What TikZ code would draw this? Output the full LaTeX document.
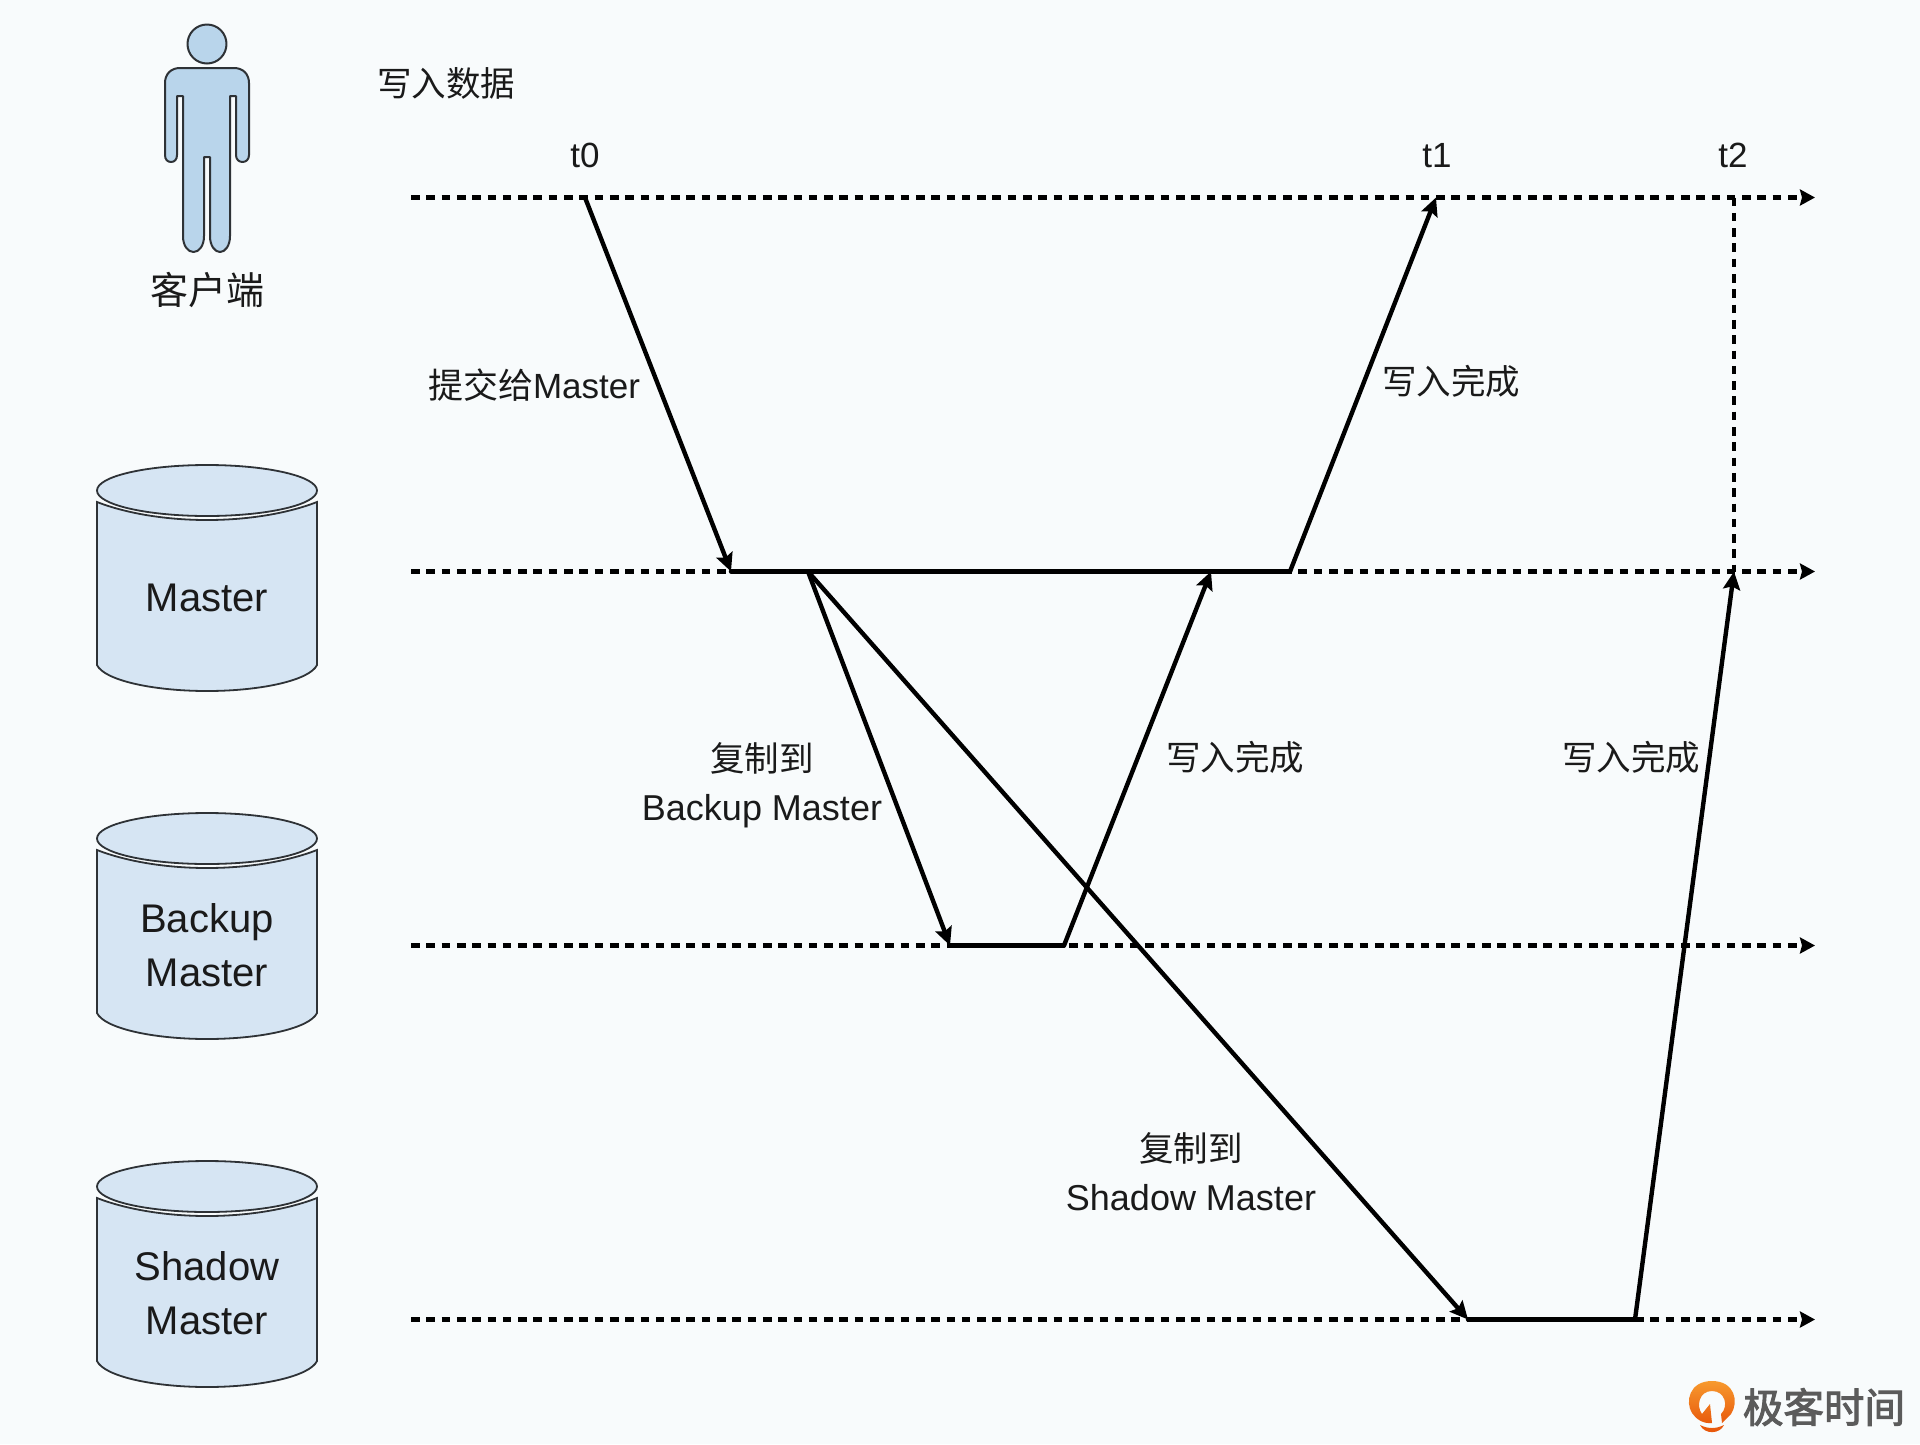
\documentclass[tikz,border=0pt]{standalone}
\usepackage{fontspec}
\setmainfont{Liberation Sans}
\newfontfamily\cjk{Noto Sans CJK SC}
\newfontfamily\cjklogo[FakeBold=2.5]{Noto Sans CJK SC}
\usetikzlibrary{arrows.meta}
\definecolor{bgc}{HTML}{F8FBFC}
\definecolor{cylc}{HTML}{D6E5F3}
\definecolor{personc}{HTML}{B9D5EB}
\definecolor{edgec}{HTML}{2E3236}
\definecolor{txtc}{HTML}{1A1A1A}
\definecolor{logoA}{HTML}{F79A2E}
\definecolor{logoB}{HTML}{E8590C}
\definecolor{logoT}{HTML}{5B5B5B}
\newcommand{\cjksm}{\fontsize{34.5}{49}\selectfont\cjk}
\tikzset{
  x=1pt,y=-1pt,
  lbl/.style={inner sep=0pt,text=txtc,align=center,font=\fontsize{35}{49}\selectfont},
  lbltwo/.style={lbl,font=\fontsize{36}{49}\selectfont},
  cyltext/.style={inner sep=0pt,text=txtc,align=center,font=\fontsize{40}{54}\selectfont},
  timeline/.style={line width=4.4pt,dash pattern=on 8.6pt off 6.7pt,-{Stealth[length=15pt,width=16pt,inset=2pt]}},
  dotline/.style={line width=4.2pt,dash pattern=on 8.6pt off 6.7pt},
  msg/.style={line width=4.4pt,line cap=round,line join=round},
  msgarrow/.style={msg,-{Stealth[length=18pt,width=17pt,inset=3pt]}},
  cylbody/.style={fill=cylc,draw=edgec,line width=1.8pt},
  personpart/.style={fill=personc,draw=edgec,line width=2pt,line join=round},
}
\newcommand{\cylinder}[1]{%
  \begin{scope}[yshift=-#1pt]
    \draw[cylbody] (97,502) .. controls (128,514) and (168,520) .. (207,520)
       .. controls (246,520) and (286,514) .. (317,502) -- (317,665)
       .. controls (310,680) and (262,691) .. (207,691)
       .. controls (152,691) and (104,680) .. (97,665) -- cycle;
    \draw[cylbody] (207,490.5) ellipse [x radius=110,y radius=25.5];
  \end{scope}}
\begin{document}
\begin{tikzpicture}
\useasboundingbox (0,0) rectangle (1920,1444);
\fill[bgc] (0,0) rectangle (1920,1444);
% person
\draw[personpart] (207,44) circle [radius=19.5];
\draw[personpart]
  (180,68) -- (234,68) .. controls (243,68) and (249,74) .. (249,83) -- (249,155)
  .. controls (249,159.5) and (246,162) .. (242.5,162)
  .. controls (239,162) and (236,159.5) .. (236,155) -- (236,96) -- (230,96) -- (230,236)
  .. controls (230,246) and (225,252) .. (220,252)
  .. controls (215,252) and (210,246) .. (210,236) -- (210,157) -- (204,157) -- (204,236)
  .. controls (204,246) and (199,252) .. (193.5,252)
  .. controls (188,252) and (183,246) .. (183,236) -- (183,96) -- (177,96) -- (177,155)
  .. controls (177,159.5) and (174.5,162) .. (171,162)
  .. controls (167.5,162) and (165,159.5) .. (165,155) -- (165,83)
  .. controls (165,74) and (171,68) .. (180,68) -- cycle;
\node[lbl,font=\fontsize{38}{49}\selectfont] (client) at (207,290) {\cjk 客户端};
\node[lbl] (write) at (446,83) {\cjksm 写入数据};
\node[lbl] (t0) at (585,155) {t0};
\node[lbl] (t1) at (1437,156) {t1};
\node[lbl] (t2) at (1733,155) {t2};
% cylinders
\cylinder{0}\cylinder{348}\cylinder{696}
\node[cyltext] (nm) at (207,598) {Master};
\node[cyltext] (nb) at (207,945) {Backup\\Master};
\node[cyltext] (ns) at (207,1293) {Shadow\\Master};
% coordinates
\foreach \n/\y in {c/197.5,m/571.5,b/945.5,s/1319.5}{
  \coordinate (\n S) at (411,\y);
  \coordinate (\n E) at (1815,\y);
}
\coordinate (c0) at (585,197.5);
\coordinate (c1) at (1436,197.5);
\coordinate (c2) at (1734,197.5);
\coordinate (m0) at (731,571.5);
\coordinate (m1) at (808,571.5);
\coordinate (m2) at (1211,571.5);
\coordinate (m3) at (1290,571.5);
\coordinate (m4) at (1734,571.5);
\coordinate (b0) at (950,945.5);
\coordinate (b1) at (1064,945.5);
\coordinate (s0) at (1468,1319.5);
\coordinate (s1) at (1635,1319.5);
% timelines
\foreach \n in {c,m,b,s}{\draw[timeline] (\n S) -- (\n E);}
\draw[dotline] (c2) -- (m4);
% messages
\draw[msgarrow] (c0) -- (m0);
\draw[msg] (m0) -- (m3);
\draw[msgarrow] (m3) -- (c1);
\draw[msgarrow] (m1) -- (b0);
\draw[msg] (b0) -- (b1);
\draw[msgarrow] (b1) -- (m2);
\draw[msgarrow] (m1) -- (s0);
\draw[msg] (s0) -- (s1);
\draw[msgarrow] (s1) -- (m4);
% labels
\node[lbl] (l1) at (534,385) {{\cjk 提交给}Master};
\node[lbl] (l2) at (1451,381) {\cjksm 写入完成};
\node[lbltwo] (l3) at (762,785) {{\cjksm 复制到}\\Backup Master};
\node[lbl] (l4) at (1235,757) {\cjksm 写入完成};
\node[lbl] (l5) at (1631,757) {\cjksm 写入完成};
\node[lbltwo] (l6) at (1191,1172) {{\cjksm 复制到}\\Shadow Master};
% logo
\shade[top color=logoA,bottom color=logoB]
  (1722,1423) -- (1731,1414)
  .. controls (1739,1402) and (1735,1381) .. (1712,1381)
  .. controls (1689,1381) and (1685,1402) .. (1692,1413)
  .. controls (1696,1419) and (1703,1424) .. (1712,1423)
  -- (1710,1404) -- (1702,1414)
  .. controls (1696,1406) and (1699,1391) .. (1712,1391)
  .. controls (1725,1391) and (1729,1406) .. (1721,1414) -- cycle;
\fill[logoB] (1700,1425) .. controls (1708,1429) and (1716,1429) .. (1724,1425)
  .. controls (1720,1434) and (1705,1435) .. (1700,1425) -- cycle;
\node[inner sep=0pt,text=logoT,font=\fontsize{40.5}{48}\selectfont\cjklogo] (logo) at (1824,1407) {极客时间};
\end{tikzpicture}
\end{document}
